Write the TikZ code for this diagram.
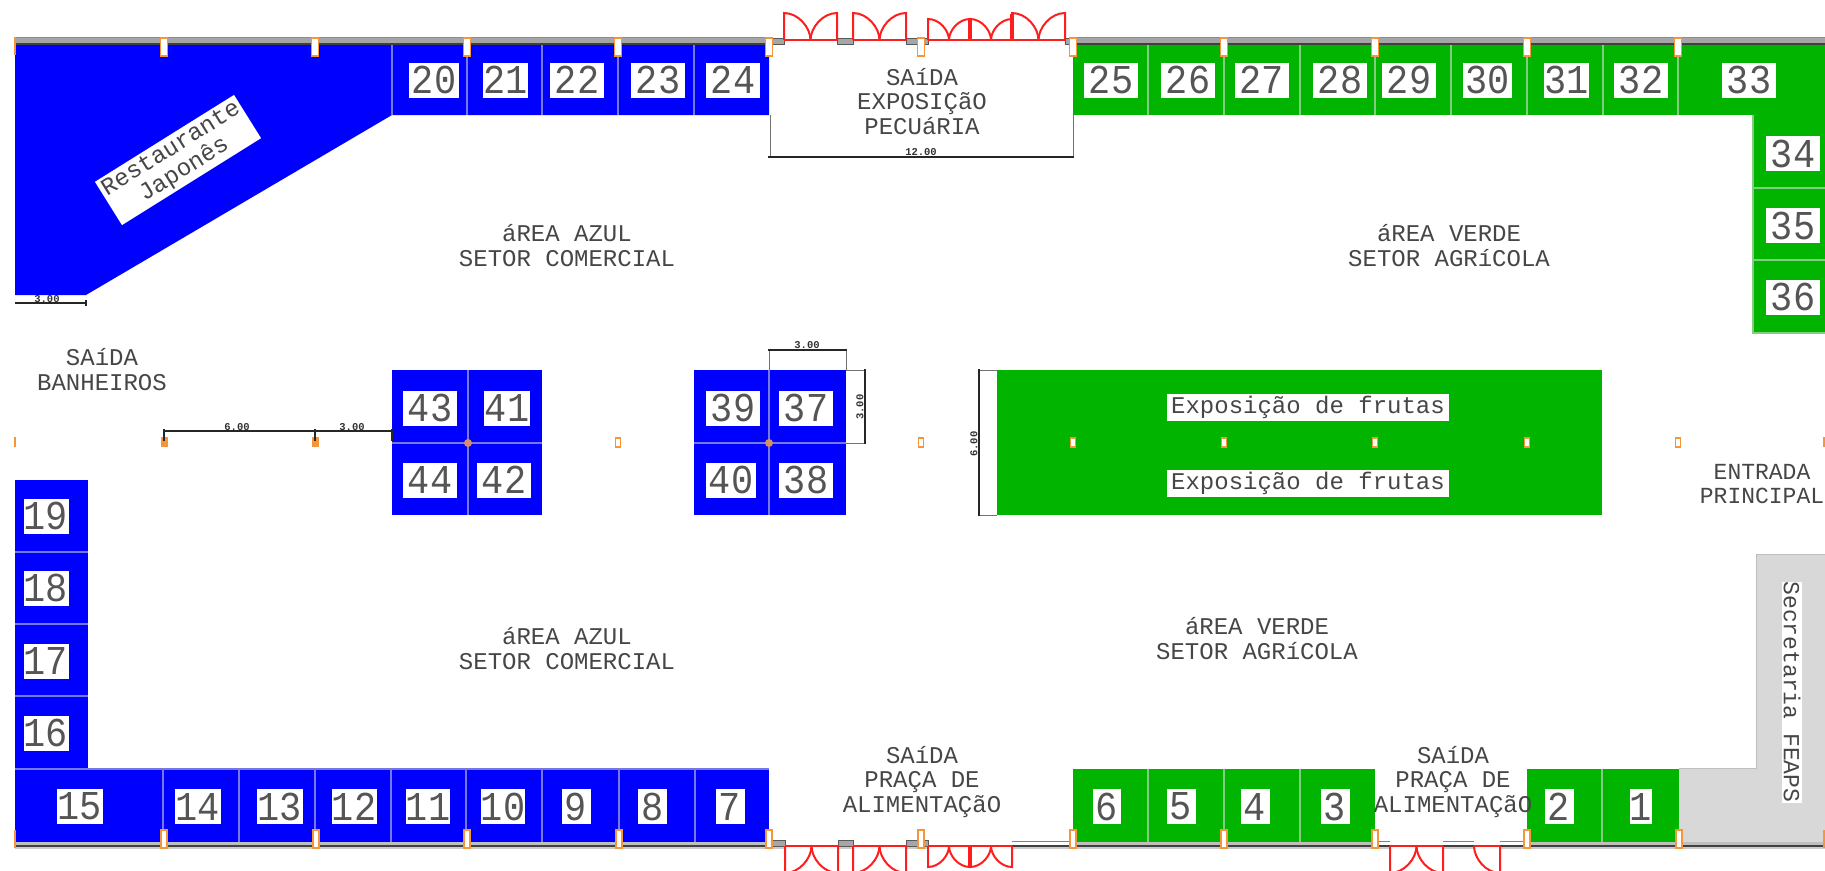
\documentclass[tikz,border=0pt]{standalone}
\usepackage{fontspec}
\setmainfont{Liberation Mono}
\newfontfamily\numfont[FakeStretch=0.9]{Liberation Mono}
\definecolor{ablue}{RGB}{0,0,255}
\definecolor{agreen}{RGB}{0,180,0}
\definecolor{agray}{RGB}{216,216,216}
\definecolor{sepblue}{RGB}{120,120,225}
\definecolor{sepgreen}{RGB}{130,205,130}
\definecolor{ink}{RGB}{70,70,70}
\definecolor{numink}{RGB}{85,85,85}
\definecolor{wallgray}{RGB}{165,165,165}
\definecolor{orng}{RGB}{245,150,60}
\definecolor{doorred}{RGB}{255,30,30}
\tikzset{
  x=1pt,y=-1pt,
  numlbl/.style={fill=white,text=numink,inner sep=0pt,minimum height=35pt,font=\numfont\fontsize{41}{41}\selectfont},
  areatext/.style={text=ink,inner sep=0pt,anchor=base,align=center,font=\fontsize{24}{24.5}\selectfont},
  boxtext/.style={fill=white,text=ink,inner sep=0pt,align=center,font=\fontsize{24}{24.5}\selectfont},
  dimtext/.style={text=black!80,inner sep=0pt,font=\bfseries\fontsize{10.5}{11}\selectfont},
  dimline/.style={draw=black!85,line width=1.1pt},
  extline/.style={draw=black!55,line width=1pt},
  sepb/.style={draw=sepblue,line width=1.2pt},
  sepg/.style={draw=sepgreen,line width=1.2pt},
  marker/.style={draw=orng,fill=white,line width=1.4pt},
  door/.style={draw=doorred,line width=2pt},
  doorthick/.style={draw=doorred,line width=3.5pt},
  wallpiece/.style={draw=black!65,fill=black!35,line width=0.8pt},
}
\newcommand{\stallnum}[4]{\node[numlbl,minimum width=#4pt] (s#1) at (#2,#3) {#1};}
% hinge x, base y, dx to the leaf end, dy of the leaf
\newcommand{\leaf}[4]{\draw[door] (#1,#2) -- ({#1},{#2+(#4)}) .. controls ({#1+0.552*(#3)},{#2+(#4)}) and ({#1+(#3)},{#2+0.448*(#4)}) .. ({#1+(#3)},#2);}
\newcommand{\doorpair}[4]{\draw[door] (#1,#3) -- (#2,#3);
  \pgfmathsetmacro{\halfd}{(#2-#1)/2}
  \leaf{#1}{#3}{\halfd}{#4}\leaf{#2}{#3}{-\halfd}{#4}}
\begin{document}
\begin{tikzpicture}
\useasboundingbox (0,0) rectangle (1825,870);
\fill[white] (0,0) rectangle (1825,870);

% grey secretariat
\fill[agray] (1756,554) -- (1825,554) -- (1825,842) -- (1679,842) -- (1679,768) -- (1756,768) -- cycle;
\draw[black!25,line width=1pt] (1825,554) -- (1756,554) -- (1756,768) -- (1679,768);

% blue areas
\fill[ablue] (15,43) -- (769,43) -- (769,115) -- (392,115) -- (86,295) -- (15,295) -- cycle;
\fill[ablue] (15,480) rectangle (88,769);
\fill[ablue] (15,769) rectangle (769,842);
\fill[ablue] (392,370) rectangle (542,515);
\fill[ablue] (694,370) rectangle (846,515);
% green areas
\fill[agreen] (1073,43) rectangle (1825,115);
\fill[agreen] (1753,115) rectangle (1825,333);
\fill[agreen] (997,370) rectangle (1602,515);
\fill[agreen] (1073,769) rectangle (1375,842);
\fill[agreen] (1527,769) rectangle (1679,842);

% stall separators
\foreach \x in {392,467,542,618,694} \draw[sepb] (\x,43) -- (\x,115);
\foreach \x in {1148,1224,1300,1375,1451,1527,1603,1678} \draw[sepg] (\x,43) -- (\x,115);
\foreach \y in {188,260} \draw[sepg] (1753,\y) -- (1825,\y);
\draw[sepg] (1753,115) -- (1753,333) -- (1825,333);
\foreach \x in {163,239,315,391,466,542,619,695} \draw[sepb] (\x,769) -- (\x,842);
\draw[sepb] (15,769) -- (769,769);
\foreach \y in {552,624,696} \draw[sepb] (15,\y) -- (88,\y);
\foreach \x in {1148,1224,1300,1602} \draw[sepg] (\x,769) -- (\x,842);
\draw[sepb] (468,370) -- (468,515); \draw[sepb] (392,443) -- (542,443);
\draw[sepb] (769,370) -- (769,515); \draw[sepb] (694,443) -- (846,443);

% walls, top
\fill[wallgray] (15,37) rectangle (769,43);
\fill[wallgray] (1073,37) rectangle (1825,43);
\draw[black!75,line width=1.4pt] (15,44) -- (769,44);
\draw[black!75,line width=1.4pt] (1073,44) -- (1825,44);
\draw[black!45,line width=0.8pt] (15,37) -- (769,37);
\draw[black!45,line width=0.8pt] (1073,37) -- (1825,37);
\draw[wallpiece] (769,38) rectangle (784,44);
\draw[wallpiece] (837,38) rectangle (853,44);
\draw[wallpiece] (906,38) rectangle (928,44);
\draw[wallpiece] (1065,38) rectangle (1073,44);

% walls, bottom
\fill[black!25] (15,842) rectangle (769,845);
\fill[black!25] (1073,842) rectangle (1375,845);
\fill[black!25] (1527,842) rectangle (1825,845);
\fill[black!20] (15,847) rectangle (1825,849);
\fill[white] (785,847) rectangle (838,849);
\fill[white] (853,847) rectangle (906,849);
\fill[white] (928,847) rectangle (1012,849);
\fill[white] (1390,847) rectangle (1443,849);
\fill[white] (1474,847) rectangle (1500,849);
\foreach \a/\b in {15/785,838/853,906/928,1012/1390,1443/1474,1500/1825}
  \draw[black!75,line width=1.8pt] (\a,846) -- (\b,846);
\draw[wallpiece] (769,840) rectangle (785,846);
\draw[wallpiece] (838,840) rectangle (853,846);
\draw[wallpiece] (906,840) rectangle (928,846);
\draw[black!50,line width=1pt] (1012,841) -- (1073,841);
\draw[black!50,line width=1pt] (1375,841) -- (1390,841);
\draw[black!50,line width=1pt] (1443,841) -- (1474,841);
\draw[black!50,line width=1pt] (1500,841) -- (1527,841);

% doors, top
\doorpair{784}{837}{40}{-27}
\doorpair{853}{906}{40}{-27}
\doorpair{928}{970}{40}{-21}
\doorpair{970}{1012}{40}{-21}
\doorpair{1012}{1065}{40}{-27}
\draw[doorthick] (970,40) -- (970,19);
\draw[doorthick] (1012,40) -- (1012,14);
% doors, bottom
\begin{scope}
\clip (0,0) rectangle (1825,870);
\doorpair{785}{838}{846}{27}
\doorpair{853}{906}{846}{27}
\doorpair{928}{970}{846}{21}
\doorpair{970}{1012}{846}{21}
\draw[doorthick] (970,846) -- (970,867);
\doorpair{1390}{1443}{846}{27}
\draw[door] (1474,846) -- (1500,846);
\leaf{1500}{846}{-26}{27}
\end{scope}

% column markers
\foreach \x in {164,315,467,618,769,921,1073,1224,1375,1527,1678}
  \draw[marker] (\x-3.5,38) rectangle (\x+3.5,56);
\foreach \x in {164,316,467,619,769,921,1073,1224,1375,1527,1679}
  \draw[marker] (\x-3,830) rectangle (\x+3,848);
\foreach \x in {618,921,1073,1224,1375,1527,1678}
  \draw[marker] (\x-2.5,438) rectangle (\x+2.5,447);
\foreach \x in {164,315}
  \fill[orng] (\x-3.5,437) rectangle (\x+3.5,447);
\foreach \x in {468,769}
  \fill[orng!75!sepblue] (\x,443) circle[radius=4pt];
\draw[orng,line width=1.5pt] (15,37) -- (15,55);
\draw[orng,line width=1.5pt] (15,830) -- (15,848);
\draw[orng,line width=1.5pt] (15,437) -- (15,447);
\draw[orng,line width=1.5pt] (1824,437) -- (1824,447);
\draw[orng,line width=1.5pt] (1824,830) -- (1824,848);

% dimensions
\draw[extline] (770,115) -- (770,157);
\draw[extline] (1073,115) -- (1073,157);
\draw[dimline] (768,157) -- (1074,157);
\node[dimtext] (d12) at (921,152) {12.00};
\draw[dimline] (15,303) -- (86,303);
\draw[dimline] (86,300) -- (86,306);
\node[dimtext] (d3a) at (47,299) {3.00};
\draw[dimline] (164,431) -- (392,431);
\foreach \x in {164,315,392} \draw[dimline] (\x,429) -- (\x,441);
\node[dimtext] (d6a) at (237,427) {6.00};
\node[dimtext] (d3b) at (352,427) {3.00};
\draw[extline] (769,350) -- (769,370);
\draw[extline] (846,350) -- (846,370);
\draw[dimline] (768,350) -- (847,350);
\node[dimtext] (d3c) at (807,345) {3.00};
\draw[extline] (846,370) -- (866,370);
\draw[extline] (846,443) -- (866,443);
\draw[dimline] (865,369) -- (865,444);
\node[dimtext,rotate=90] (d3d) at (860,407) {3.00};
\draw[extline] (979,370) -- (997,370);
\draw[extline] (979,515) -- (997,515);
\draw[dimline] (979,369) -- (979,516);
\node[dimtext,rotate=90] (d6b) at (974,444) {6.00};

% stall numbers
\stallnum{20}{434}{80}{50}
\stallnum{21}{505.5}{80}{45}
\stallnum{22}{577}{80}{54}
\stallnum{23}{658}{80}{54}
\stallnum{24}{733}{80}{54}
\stallnum{25}{1111}{80}{54}
\stallnum{26}{1188}{80}{54}
\stallnum{27}{1261.5}{80}{54}
\stallnum{28}{1340}{80}{54}
\stallnum{29}{1409}{80}{54}
\stallnum{30}{1487.5}{80}{49}
\stallnum{31}{1566.5}{80}{45}
\stallnum{32}{1641}{80}{54}
\stallnum{33}{1749}{80}{54}
\stallnum{34}{1793}{153.5}{54}
\stallnum{35}{1793}{225.5}{54}
\stallnum{36}{1793}{297}{54}
\stallnum{43}{430}{408}{54}
\stallnum{41}{507}{408}{46}
\stallnum{44}{430}{480}{54}
\stallnum{42}{504}{480}{54}
\stallnum{39}{733}{408}{54}
\stallnum{37}{806}{408}{54}
\stallnum{40}{731}{480}{50}
\stallnum{38}{806}{480}{54}
\stallnum{19}{46}{516}{45}
\stallnum{18}{46}{588}{45}
\stallnum{17}{46}{661}{45}
\stallnum{16}{46}{733}{45}
\stallnum{15}{80}{806.5}{46}
\stallnum{14}{198}{806.5}{46}
\stallnum{13}{280}{806.5}{46}
\stallnum{12}{354}{806.5}{45}
\stallnum{11}{428}{806.5}{38}
\stallnum{10}{503}{806.5}{41}
\stallnum{9}{576}{806.5}{29}
\stallnum{8}{652.5}{806.5}{29}
\stallnum{7}{730}{806.5}{29}
\stallnum{6}{1107}{806.5}{28}
\stallnum{5}{1181}{806.5}{29}
\stallnum{4}{1255}{806.5}{29}
\stallnum{3}{1335}{806.5}{29}
\stallnum{2}{1559}{806.5}{29}
\stallnum{1}{1641}{806.5}{20}

% area labels (placed by the baseline of the last line)
\node[areatext] (azul1) at (567,266) {áREA AZUL\\SETOR COMERCIAL};
\node[areatext] (verde1) at (1449,266) {áREA VERDE\\SETOR AGRíCOLA};
\node[areatext] (azul2) at (567,669) {áREA AZUL\\SETOR COMERCIAL};
\node[areatext] (verde2) at (1257,659) {áREA VERDE\\SETOR AGRíCOLA};
\node[areatext] (expo) at (922,134) {SAíDA\\EXPOSIÇãO\\PECUáRIA};
\node[areatext] (praca1) at (922,812) {SAíDA\\PRAÇA DE\\ALIMENTAÇãO};
\node[areatext] (praca2) at (1453,812) {SAíDA\\PRAÇA DE\\ALIMENTAÇãO};
\node[areatext] (banh) at (102,390) {SAíDA\\BANHEIROS};
\node[areatext,font=\fontsize{23}{23.5}\selectfont] (entr) at (1762,503) {ENTRADA\\PRINCIPAL};

\node[boxtext,minimum width=282pt,minimum height=27pt] (fr1) at (1308,407) {Exposição de frutas};
\node[boxtext,minimum width=282pt,minimum height=27pt] (fr2) at (1308,483) {Exposição de frutas};
\node[boxtext,minimum width=164pt,minimum height=51pt,rotate=32] (rest) at (178,160) {Restaurante\\Japonês};
\node[boxtext,minimum width=221pt,minimum height=20pt,rotate=-90,font=\fontsize{23}{23.5}\selectfont] (sec) at (1792,692) {Secretaria FEAPS};
\end{tikzpicture}
\end{document}
